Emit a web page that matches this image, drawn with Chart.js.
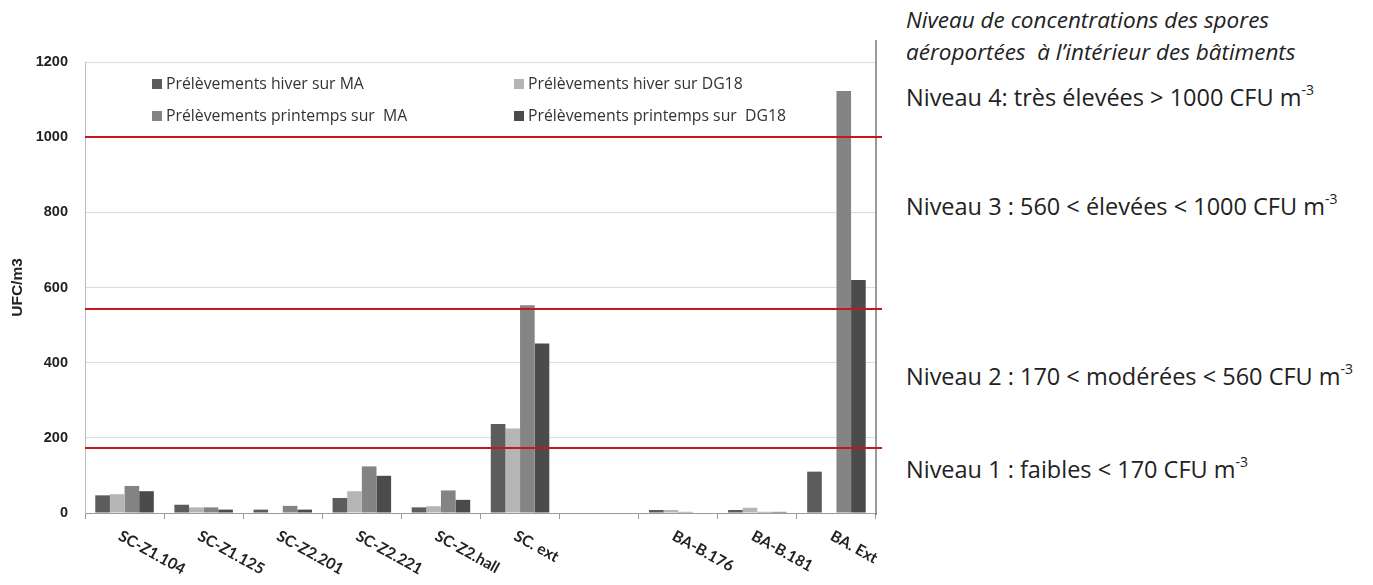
<!DOCTYPE html>
<html>
<head>
<meta charset="utf-8">
<script src="https://cdn.jsdelivr.net/npm/chart.js@4.4.1/dist/chart.umd.min.js"></script>
<style>
  body { margin: 0; background: #fff; width: 1373px; height: 585px; position: relative; overflow: hidden; }
  #wrap { position: absolute; left: 0; top: 0; width: 890px; height: 585px; }
  .side { position: absolute; left: 906px; font-family: "Open Sans", sans-serif; color: #222; font-size: 23.5px; white-space: pre; }
  .side.it { font-style: italic; font-size: 22.5px; }
  .side sup { font-size: 14px; vertical-align: 11px; line-height: 0; }
</style>
</head>
<body>
<div id="wrap"><canvas id="chart"></canvas></div>
<div class="side it" style="top:4px">Niveau de concentrations des spores</div>
<div class="side it" style="top:36px">aéroportées  à l’intérieur des bâtiments</div>
<div class="side" style="top:81px">Niveau 4: très élevées &gt; 1000 CFU m<sup>-3</sup></div>
<div class="side" style="top:190px">Niveau 3 : 560 &lt; élevées &lt; 1000 CFU m<sup>-3</sup></div>
<div class="side" style="top:360px">Niveau 2 : 170 &lt; modérées &lt; 560 CFU m<sup>-3</sup></div>
<div class="side" style="top:453px">Niveau 1 : faibles &lt; 170 CFU m<sup>-3</sup></div>
<script>
// sampling points
const categories = ["SC-Z1.104", "SC-Z1.125", "SC-Z2.201", "SC-Z2.221", "SC-Z2.hall", "SC. ext", "", "BA-B.176", "BA-B.181", "BA. Ext"];
const hiverMA = [47, 22, 9, 40, 15, 237, 0, 8, 8, 110];
const hiverDG18 = [50, 15, 0, 58, 18, 225, 0, 8, 14, 0];
const printempsMA = [72, 15, 19, 124, 60, 553, 0, 3, 3, 1123];
const printempsDG18 = [58, 9, 9, 99, 35, 451, 0, 0, 3, 620];
const seriesLabels = ["Prélèvements hiver sur MA", "Prélèvements hiver sur DG18", "Prélèvements printemps sur  MA", "Prélèvements printemps sur  DG18"];
// red threshold lines as drawn
const thresholds = [172, 543, 1000];

const colors = ["#5c5c5c", "#b5b5b5", "#848484", "#4b4b4b"];

const extras = {
    id: "extras",
    afterDatasetsDraw: (chart) => {
        const {ctx, chartArea: {left, right, top, bottom}, scales: {x, y}} = chart;
        ctx.save();
        // right border
        ctx.strokeStyle = "#7a7a7a";
        ctx.lineWidth = 1.5;
        ctx.beginPath();
        ctx.moveTo(right, top - 22);
        ctx.lineTo(right, bottom + 2);
        ctx.stroke();
        // red lines
        ctx.strokeStyle = "#c8161d";
        ctx.lineWidth = 2;
        thresholds.forEach(v => {
            const py = Math.round(y.getPixelForValue(v));
            ctx.beginPath();
            ctx.moveTo(left, py);
            ctx.lineTo(right + 6, py);
            ctx.stroke();
        });
        // legend inside the plot, 2 columns
        ctx.font = "15.8px 'Open Sans'";
        ctx.textBaseline = "middle";
        ctx.textAlign = "left";
        const colX = [left + 67, left + 429];
        const rowY = [top + 22, top + 54];
        chart.data.datasets.forEach((ds, i) => {
            const cx = colX[i % 2], cy = rowY[Math.floor(i / 2)];
            ctx.fillStyle = ds.backgroundColor;
            ctx.fillRect(cx, cy - 5, 10, 10);
            ctx.fillStyle = "#333";
            ctx.fillText(ds.label, cx + 14, cy);
        });
        // rotated category labels
        ctx.font = "bold 15.5px Lato";
        ctx.fillStyle = "#222";
        ctx.textBaseline = "top";
        chart.data.labels.forEach((lab, i) => {
            const px = x.getPixelForValue(i);
            ctx.save();
            ctx.translate(px - 1, bottom + 15);
            ctx.rotate(29 * Math.PI / 180);
            ctx.fillText(lab, 0, 0);
            ctx.restore();
        });
        ctx.restore();
    }
};

new Chart(document.getElementById("chart").getContext("2d"), {
    type: "bar",
    data: {
        labels: categories,
        datasets: [
            {label: seriesLabels[0], data: hiverMA, backgroundColor: colors[0]},
            {label: seriesLabels[1], data: hiverDG18, backgroundColor: colors[1]},
            {label: seriesLabels[2], data: printempsMA, backgroundColor: colors[2]},
            {label: seriesLabels[3], data: printempsDG18, backgroundColor: colors[3]},
        ],
    },
    options: {
        responsive: true,
        maintainAspectRatio: false,
        animation: false,
        layout: {padding: {top: 62, right: 14, bottom: 0, left: 0}},
        datasets: {bar: {categoryPercentage: 0.74, barPercentage: 1.0, borderWidth: 0}},
        plugins: {legend: {display: false}, tooltip: {enabled: false}},
        scales: {
            x: {
                grid: {drawOnChartArea: false, offset: true, tickLength: 6, color: "#9a9a9a"},
                border: {color: "#9a9a9a"},
                ticks: {display: false},
                afterFit: (s) => { s.height = 72; },
            },
            y: {
                min: 0,
                max: 1200,
                ticks: {stepSize: 200, padding: 17, color: "#222", font: {family: "Liberation Sans", size: 14.5, weight: "bold"},
                        callback: (v) => String(v)},
                grid: {color: "#dcdcdc", drawTicks: false},
                border: {color: "#bdbdbd"},
                title: {display: true, text: "UFC/m3", color: "#222", padding: {top: 8, bottom: 0}, font: {family: "Liberation Sans", size: 15.5, weight: "bold"}},
                afterFit: (s) => { s.width = 85; },
            },
        },
    },
    plugins: [extras],
});
</script>
</body>
</html>
